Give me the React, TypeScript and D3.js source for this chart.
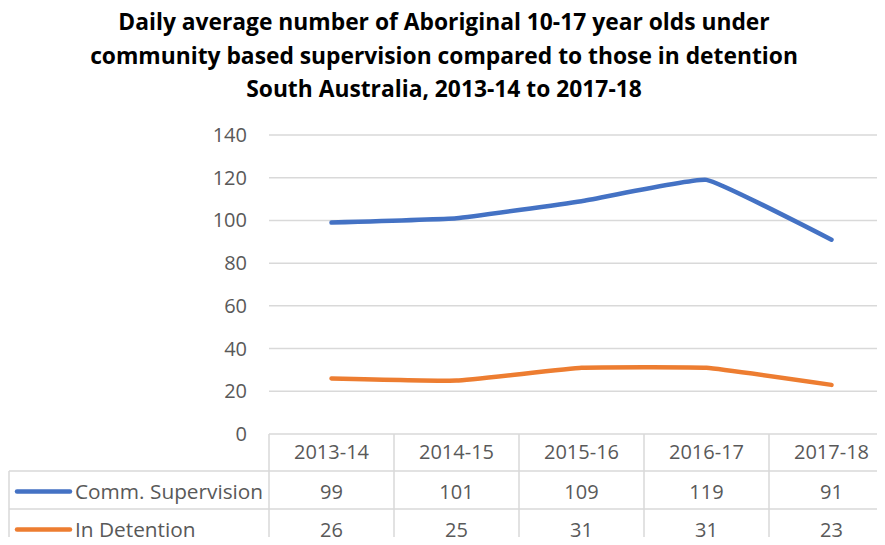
import React from "react";
import * as d3 from "d3";

const categories = ["2013-14", "2014-15", "2015-16", "2016-17", "2017-18"];
const seriesNames = ["Comm. Supervision", "In Detention"];
const commSupervision = [99, 101, 109, 119, 91];
const inDetention = [26, 25, 31, 31, 23];
const yTicks = [0, 20, 40, 60, 80, 100, 120, 140];
const titleLines = [
  "Daily average number of Aboriginal 10-17 year olds under",
  "community based supervision compared to those in detention",
  "South Australia, 2013-14 to 2017-18",
];
const colors = ["#4472C4", "#ED7D31"];

const W = 885;
const H = 545;
const FONT = "'Open Sans', sans-serif";

export default function App() {
  const plotLeft = 269;
  const colW = 125;
  const plotRight = plotLeft + colW * categories.length;
  const y = d3.scaleLinear().domain([0, 140]).range([434, 135]);
  const x = d3
    .scaleBand<string>()
    .domain(categories)
    .range([plotLeft, plotRight])
    .padding(0);
  const cx = (c: string) => (x(c) ?? 0) + x.bandwidth() / 2;

  const line = d3
    .line<number>()
    .x((_, i) => cx(categories[i]))
    .y((d) => y(d))
    .curve(d3.curveCardinal.tension(0.7));

  const series = [commSupervision, inDetention];
  const tableTop = y(0);
  const headerBottom = 471;
  const rowH = 38;
  const rowBottoms = [headerBottom + rowH, headerBottom + rowH * 2];
  const grid = "#d9d9d9";
  const textCol = "#595959";
  const fs = 20;

  return (
    <div style={{ margin: -8 }}>
      <svg width={W} height={H} style={{ display: "block", fontFamily: FONT }}>
        <rect width={W} height={H} fill="#fff" />
        {titleLines.map((t, i) => (
          <text
            key={i}
            x={444}
            y={30 + i * 33.5}
            textAnchor="middle"
            fontSize={22.8}
            fontWeight="bold"
            fill="#000"
          >
            {t}
          </text>
        ))}
        {yTicks.map((t) => (
          <g key={t}>
            {t > 0 && (
              <line x1={plotLeft} x2={W} y1={y(t)} y2={y(t)} stroke={grid} strokeWidth={1.5} />
            )}
            <text x={247} y={y(t) + 7} textAnchor="end" fontSize={fs} fill={textCol}>
              {t}
            </text>
          </g>
        ))}
        {series.map((s, i) => (
          <path
            key={i}
            d={line(s) ?? ""}
            fill="none"
            stroke={colors[i]}
            strokeWidth={4.5}
            strokeLinecap="round"
            strokeLinejoin="round"
          />
        ))}
        {/* data table */}
        <g stroke={grid} strokeWidth={1.5}>
          <line x1={plotLeft} x2={W} y1={tableTop} y2={tableTop} />
          <line x1={9} x2={W} y1={headerBottom} y2={headerBottom} />
          <line x1={9} x2={W} y1={rowBottoms[0]} y2={rowBottoms[0]} />
          <line x1={9} x2={9} y1={headerBottom} y2={H} />
          {categories.map((c) => (
            <line key={c} x1={x(c) ?? 0} x2={x(c) ?? 0} y1={tableTop} y2={H} />
          ))}
        </g>
        {categories.map((c) => (
          <text
            key={c}
            x={cx(c)}
            y={452 + 7}
            textAnchor="middle"
            fontSize={fs}
            fill={textCol}
          >
            {c}
          </text>
        ))}
        {series.map((s, i) => {
          const top = i === 0 ? headerBottom : rowBottoms[0];
          const mid = top + rowH / 2 + 1.5;
          return (
            <g key={i}>
              <line
                x1={17}
                x2={70}
                y1={mid}
                y2={mid}
                stroke={colors[i]}
                strokeWidth={4.5}
                strokeLinecap="round"
              />
              <text x={75} y={mid + 7} fontSize={20.8} fill={textCol}>
                {seriesNames[i]}
              </text>
              {s.map((v, j) => (
                <text
                  key={j}
                  x={cx(categories[j])}
                  y={mid + 7}
                  textAnchor="middle"
                  fontSize={fs}
                  fill={textCol}
                >
                  {v}
                </text>
              ))}
            </g>
          );
        })}
      </svg>
    </div>
  );
}
